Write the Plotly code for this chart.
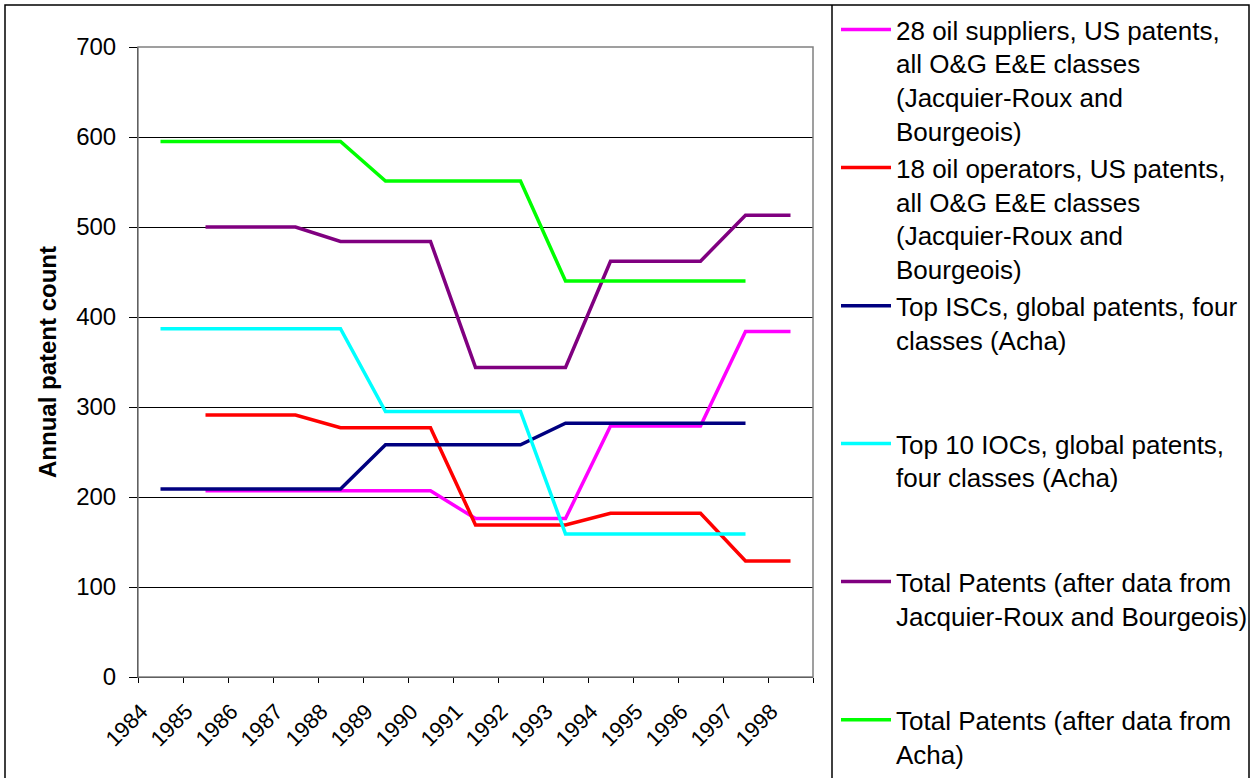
"""Annual patent counts, oil & gas E&E, 1984-1998."""
import plotly.graph_objects as go

# Chart data
years = [str(y) for y in range(1984, 1999)]

suppliers_28 = [None, 207, 207, 207, 207, 207, 207, 176, 176, 176, 279, 279, 279, 384, 384]
operators_18 = [None, 291, 291, 291, 277, 277, 277, 169, 169, 169, 182, 182, 182, 129, 129]
top_iscs = [209, 209, 209, 209, 209, 258, 258, 258, 258, 282, 282, 282, 282, 282, None]
top_iocs = [387, 387, 387, 387, 387, 295, 295, 295, 295, 159, 159, 159, 159, 159, None]
total_jrb = [None, 500, 500, 500, 484, 484, 484, 344, 344, 344, 462, 462, 462, 513, 513]
total_acha = [595, 595, 595, 595, 595, 551, 551, 551, 551, 440, 440, 440, 440, 440, None]

series_names = [
    "28 oil suppliers, US patents,<br>all O&G E&E classes<br>(Jacquier-Roux and<br>Bourgeois)",
    "18 oil operators, US patents,<br>all O&G E&E classes<br>(Jacquier-Roux and<br>Bourgeois)",
    "Top ISCs, global patents, four<br>classes (Acha)",
    "Top 10 IOCs, global patents,<br>four classes (Acha)<br>\u00a0<br>\u00a0",
    "Total Patents (after data from<br>Jacquier-Roux and Bourgeois)<br>\u00a0<br>\u00a0",
    "Total Patents (after data from<br>Acha)",
]
series_values = [suppliers_28, operators_18, top_iscs, top_iocs, total_jrb, total_acha]
series_colors = ["#FF00FF", "#FF0000", "#000080", "#00FFFF", "#800080", "#00FF00"]
# the legend is split in two boxes (one box would be too tall and scroll)
series_legend = ["legend", "legend", "legend", "legend2", "legend2", "legend2"]

FONT = "Liberation Sans, Arial, sans-serif"

# plot area in pixels (for placing frame / legend)
W, H = 1256, 778
L, R, T, B = 138, 813, 47, 677


def px_x(p):
    return (p - L) / (R - L)


def px_y(p):
    return (B - p) / (B - T)


fig = go.Figure()
for name, vals, col, leg in zip(series_names, series_values, series_colors, series_legend):
    fig.add_trace(go.Scatter(
        x=years,
        y=vals,
        name=name,
        mode="lines",
        line=dict(color=col, width=3.5),
        legend=leg,
    ))

legend_style = dict(
    xanchor="left",
    yanchor="top",
    font=dict(family=FONT, size=26, color="black"),
    valign="top",
    itemwidth=50,
    bgcolor="rgba(0,0,0,0)",
    tracegroupgap=0,
)

fig.update_layout(
    width=W,
    height=H,
    margin=dict(l=L, r=W - R, t=T, b=H - B, autoexpand=False),
    paper_bgcolor="white",
    plot_bgcolor="white",
    font=dict(family=FONT, color="black"),
    showlegend=True,
    legend=dict(x=px_x(836), y=px_y(6), **legend_style),
    legend2=dict(x=px_x(836), y=px_y(420), **legend_style),
)

fig.update_xaxes(
    type="category",
    range=[-0.5, len(years) - 0.5],
    tickangle=-45,
    tickfont=dict(family=FONT, size=22, color="black"),
    ticks="outside",
    ticklen=5,
    tickcolor="black",
    tickson="boundaries",
    ticklabelstandoff=12,
    ticklabelshift=-19,
    showline=True,
    linecolor="black",
    linewidth=1,
    showgrid=False,
)

fig.update_yaxes(
    range=[0, 700],
    dtick=100,
    tickfont=dict(family=FONT, size=24, color="black"),
    ticks="outside",
    ticklen=8,
    tickcolor="black",
    ticklabelstandoff=8,
    showline=True,
    linecolor="black",
    linewidth=1,
    showgrid=True,
    gridcolor="black",
    gridwidth=1,
    zeroline=False,
)

# y axis title
fig.add_annotation(
    text="<b>Annual patent count</b>",
    xref="paper", yref="paper",
    x=px_x(47), y=0.5,
    xanchor="center", yanchor="middle",
    textangle=-90,
    showarrow=False,
    font=dict(family=FONT, size=24, color="black"),
)

# plot area border (grey top/right)
fig.add_shape(type="rect", xref="paper", yref="paper",
              x0=0, x1=1, y0=0, y1=1,
              line=dict(color="#808080", width=1.5))
# outer chart frame and legend divider
fig.add_shape(type="rect", xref="paper", yref="paper",
              x0=px_x(5), x1=px_x(1249), y0=px_y(800), y1=px_y(5),
              line=dict(color="black", width=1.5))
fig.add_shape(type="line", xref="paper", yref="paper",
              x0=px_x(832), x1=px_x(832), y0=px_y(800), y1=px_y(5),
              line=dict(color="black", width=1.5))

fig.write_html(
    "out.html",
    config={"displayModeBar": False},
    post_script="document.body.style.margin='0';",
)
